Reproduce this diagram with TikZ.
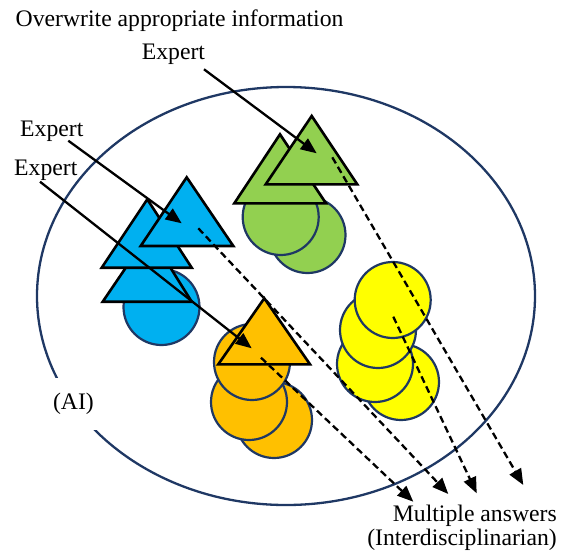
\documentclass[tikz,border=0pt]{standalone}
\usepackage{fontspec}
\setmainfont{Liberation Serif}
\usetikzlibrary{arrows.meta}
\definecolor{cblue}{HTML}{00B0F0}
\definecolor{cgreen}{HTML}{92D050}
\definecolor{corange}{HTML}{FFC000}
\definecolor{cyellow}{HTML}{FFFF00}
\definecolor{navy}{HTML}{1F3864}
\begin{document}
\begin{tikzpicture}[x=1pt,y=-1pt,
  lbl/.style={font=\fontsize{23.7}{27}\selectfont, inner sep=0pt},
  tri/.style={draw=black, line width=2.6pt, line join=miter},
  circ/.style={draw=navy, line width=2.2pt},
  solidarrow/.style={line width=2.3pt, -{Triangle[length=16pt,width=13pt]}},
  dasharrow/.style={line width=2.3pt, dash pattern=on 7pt off 4pt, -{Triangle[length=16pt,width=13pt]}}
]
\useasboundingbox (0,0) rectangle (566,550);

% AI ellipse
\draw[navy, line width=2.3pt] (286,296) ellipse[x radius=249pt, y radius=209pt];
\node[lbl, fill=white, inner xsep=3pt, minimum height=52pt] (ai) at (73.5,404) {(AI)};

% blue cluster
\draw[circ, fill=cblue] (161.5,307) circle[radius=38pt];
\draw[tri, fill=cblue] (102.7,301.7) -- (191.7,301.7) -- (149,233.5) -- cycle;
\draw[tri, fill=cblue] (101.7,267.7) -- (191.7,267.7) -- (147.3,199.3) -- cycle;
\draw[tri, fill=cblue] (140.7,246) -- (233.3,246) -- (186.7,177.3) -- cycle;

% green cluster
\draw[circ, fill=cgreen] (307.5,235) circle[radius=38pt];
\draw[circ, fill=cgreen] (280.7,217) circle[radius=38pt];
\draw[tri, fill=cgreen] (234.3,203.3) -- (326,203.3) -- (280,134.3) -- cycle;
\draw[tri, fill=cgreen] (265.7,184.3) -- (357.3,184.3) -- (311.7,116) -- cycle;

% orange cluster
\draw[circ, fill=corange] (274,420) circle[radius=38pt];
\draw[circ, fill=corange] (249,402) circle[radius=38pt];
\draw[circ, fill=corange] (252,362) circle[radius=38pt];
\draw[tri, fill=corange] (218.3,364.3) -- (310,364.3) -- (264.3,298.3) -- cycle;

% yellow cluster
\draw[circ, fill=cyellow] (401,382) circle[radius=38pt];
\draw[circ, fill=cyellow] (375,364) circle[radius=38pt];
\draw[circ, fill=cyellow] (378,330) circle[radius=38pt];
\draw[circ, fill=cyellow] (392.7,300) circle[radius=38pt];

% labels
\node[lbl, anchor=base west] (title) at (15.5,26.5) {Overwrite appropriate information};
\node[lbl, anchor=base west] (ex1) at (141.7,59.5) {Expert};
\node[lbl, anchor=base west] (ex2) at (20,136.5) {Expert};
\node[lbl, anchor=base west] (ex3) at (14,175.5) {Expert};
\node[lbl, anchor=base east] (ans1) at (557,521.5) {Multiple answers};
\node[lbl, anchor=base east] (ans2) at (557,545) {(Interdisciplinarian)};

% arrow end points
\coordinate (s1) at (204,69.3);
\coordinate (t1) at (316.7,153.3);
\coordinate (s2) at (68.3,140.7);
\coordinate (t2) at (181.7,223.3);
\coordinate (s3) at (40,181.7);
\coordinate (t3) at (251.7,348.3);

\coordinate (dg) at (332.3,157.3);
\coordinate (dgt) at (523.3,485);
\coordinate (dy) at (393.3,316.7);
\coordinate (dyt) at (476.7,493.3);
\coordinate (db) at (198.3,228.3);
\coordinate (dbt) at (448.3,494);
\coordinate (do) at (261,357.7);
\coordinate (dot) at (413.3,501.7);

\draw[solidarrow] (s1) -- (t1);
\draw[solidarrow] (s2) -- (t2);
\draw[solidarrow] (s3) -- (t3);

\draw[dasharrow] (dg) -- (dgt);
\draw[dasharrow] (dy) -- (dyt);
\draw[dasharrow] (db) -- (dbt);
\draw[dasharrow] (do) -- (dot);
\end{tikzpicture}
\end{document}
